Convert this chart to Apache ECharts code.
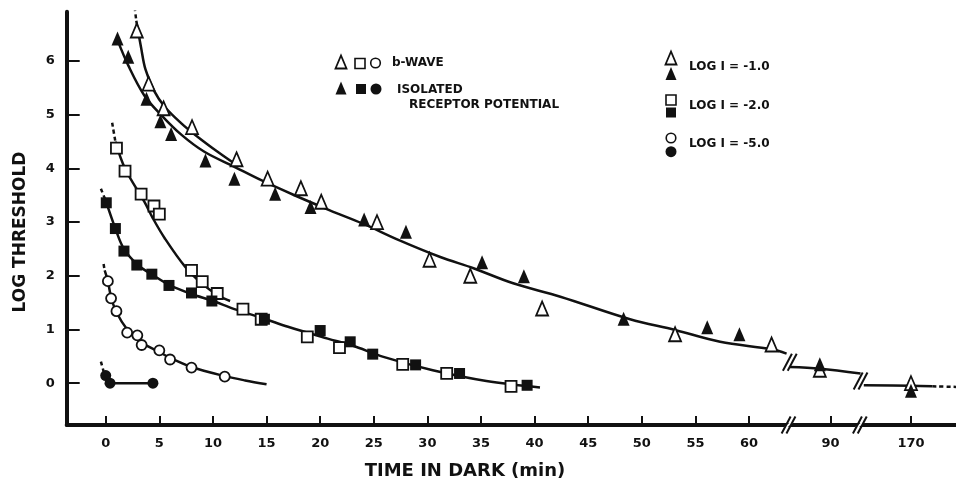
<!DOCTYPE html>
<html>
<head>
<meta charset="utf-8">
<title>Dark adaptation</title>
<script src="https://cdn.jsdelivr.net/npm/echarts@6/dist/echarts.min.js"></script>
<style>
  html, body { margin: 0; padding: 0; background: #fff; }
  #main { width: 956px; height: 481px; }
</style>
</head>
<body>
<div id="main"></div>
<script>
// x values are minutes in the dark; past 63 min the axis is broken (90 and 170 min)
const tickLabels = [0, 5, 10, 15, 20, 25, 30, 35, 40, 45, 50, 55, 60, 90, 170];
const yTicks = [0, 1, 2, 3, 4, 5, 6];

// measured points: b-wave = open symbols, receptor potential = filled symbols
const bwaveI1 = [[2.9, 6.57], [4.0, 5.58], [5.4, 5.12], [8.05, 4.77], [12.2, 4.17], [15.1, 3.81],
  [18.2, 3.63], [20.1, 3.38], [25.3, 3.0], [30.2, 2.30], [34.0, 2.0], [40.7, 1.39],
  [53.1, 0.91], [62.1, 0.72], [89, 0.25], [170, 0.0]];
const receptorI1 = [[1.1, 6.42], [2.1, 6.08], [3.8, 5.30], [5.1, 4.88], [6.1, 4.64], [9.3, 4.15],
  [12.0, 3.81], [15.8, 3.53], [19.1, 3.28], [24.1, 3.05], [28.0, 2.82], [35.1, 2.25],
  [39.0, 1.99], [48.3, 1.20], [56.1, 1.04], [59.1, 0.91], [89, 0.35], [170, -0.14]];
const bwaveI2 = [[1.0, 4.38], [1.8, 3.95], [3.3, 3.52], [4.5, 3.30], [5.0, 3.15], [8.0, 2.10],
  [9.0, 1.89], [10.4, 1.67], [12.8, 1.38], [14.5, 1.19], [18.8, 0.86], [21.8, 0.66],
  [27.7, 0.35], [31.8, 0.18], [37.8, -0.06]];
const receptorI2 = [[0.05, 3.36], [0.9, 2.88], [1.7, 2.46], [2.9, 2.20], [4.3, 2.03], [5.9, 1.82],
  [8.0, 1.68], [9.9, 1.53], [14.8, 1.19], [20.0, 0.98], [22.8, 0.77], [24.9, 0.54],
  [28.9, 0.34], [33.0, 0.18], [39.3, -0.04]];
const bwaveI5 = [[0.2, 1.90], [0.5, 1.58], [1.0, 1.34], [2.0, 0.94], [2.95, 0.89], [3.35, 0.71],
  [5.0, 0.61], [6.0, 0.44], [8.0, 0.29], [11.1, 0.12]];
const receptorI5 = [[0.0, 0.14], [0.4, 0.0], [4.4, 0.0]];

// hand drawn curves
const curveBwaveI1 = [[2.85, 6.75], [3.3, 6.25], [3.7, 5.85], [4.5, 5.45], [5.5, 5.15], [7, 4.85],
  [8.5, 4.6], [10.5, 4.3], [12.3, 4.05]];
const curveI1 = [[1.1, 6.39], [2.1, 5.92], [3.6, 5.36], [5.2, 4.99], [7.1, 4.62], [9.2, 4.31],
  [12, 4.03], [14.5, 3.78], [17.6, 3.5], [20.9, 3.22], [24, 2.97], [27.4, 2.66], [31.2, 2.35],
  [34.3, 2.14], [38, 1.86], [42.4, 1.61], [48.9, 1.19], [53.1, 0.99], [57.3, 0.77],
  [62.1, 0.63], [63.5, 0.55]];
const curveI1b = [[86.2, 0.30], [89, 0.27], [92.8, 0.18]];
const curveI1c = [[165.6, -0.04], [170, -0.05], [172, -0.06]];
const curveI1tail = [[172, -0.06], [174.2, -0.07]];
const curveBwaveI2 = [[0.9, 4.5], [1.8, 4.0], [3.6, 3.38], [4.4, 3.07], [5.5, 2.7], [7.4, 2.17],
  [9, 1.85], [10.6, 1.62], [11.6, 1.53]];
const curveI2 = [[0.0, 3.4], [0.9, 2.88], [1.7, 2.5], [3, 2.2], [4.5, 2.0], [6, 1.82], [8, 1.66],
  [10, 1.53], [12, 1.38], [14.8, 1.2], [17, 1.05], [20.7, 0.83], [23, 0.7], [25.9, 0.49],
  [30.5, 0.24], [35.5, 0.04], [40.5, -0.08]];
const curveBwaveI5 = [[-0.1, 2.1], [0.2, 1.9], [0.5, 1.6], [1, 1.32], [2, 1.0], [3, 0.8], [4, 0.68],
  [5, 0.58], [6, 0.47], [8, 0.3], [11.1, 0.13], [13, 0.05], [15, -0.02]];
const curveI5 = [[-0.2, 0.22], [0.0, 0.14], [0.4, 0.0], [4.4, 0.0]];
const dashStarts = [
  [[2.7, 7.0], [2.85, 6.75]],
  [[0.6, 4.85], [0.9, 4.5]],
  [[-0.45, 3.62], [0.0, 3.4]],
  [[-0.2, 2.22], [-0.1, 2.1]],
  [[-0.45, 0.4], [-0.2, 0.22]]
];
// break marks on the axis (x position only) and on the -1.0 curve
const axisBreaks = [63.68, 70.33];
const curveBreaks = [[63.8, 0.39], [70.4, 0.04]];

function pos(t) {
  if (t <= 63.5) return t;
  if (t < 130) return t - 22.4;   // 90 min sits at 67.6
  return t - 94.9;                // 170 min sits at 75.1
}
function mapPts(arr) { return arr.map(p => [pos(p[0]), p[1]]); }
function labelFor(v) {
  const t = tickLabels.find(k => Math.abs(pos(k) - v) < 1e-6);
  return t === undefined ? '' : String(t);
}

const ink = '#111';
const font = 'DejaVu Sans';
const yMin = -0.78;

function curve(data, dashed) {
  return {
    type: 'line', data: mapPts(data), smooth: 0.35, symbol: 'none', silent: true, z: 2,
    lineStyle: { color: ink, width: 2.5, type: dashed ? [4, 3] : 'solid' }
  };
}
function marks(data, symbol, size, filled) {
  return {
    type: 'scatter', data: mapPts(data), symbol: symbol, symbolSize: size, z: 4,
    itemStyle: filled ? { color: ink, opacity: 1 } : { color: '#fff', borderColor: ink, borderWidth: 1.8, opacity: 1 }
  };
}
function breakSeries(data, onAxis) {
  return {
    type: 'custom', z: 5, silent: true,
    data: data,
    renderItem: function (params, api) {
      const c = api.coord([api.value(0), onAxis ? yMin : api.value(1)]);
      const h = 8.5, sx = 4.5, off = 2.4;
      const kids = [];
      if (onAxis) {
        kids.push({ type: 'polygon', shape: { points: [[c[0] - off - sx + 1, c[1] + 3], [c[0] + off - sx, c[1] + 3], [c[0] + off + sx - 1, c[1] - 3], [c[0] - off + sx, c[1] - 3]] }, style: { fill: '#fff' } });
      }
      [-off, off].forEach(dx => {
        kids.push({ type: 'line', shape: { x1: c[0] + dx - sx, y1: c[1] + h, x2: c[0] + dx + sx, y2: c[1] - h }, style: { stroke: ink, lineWidth: 2 } });
      });
      return { type: 'group', children: kids };
    }
  };
}

// legend glyphs
function tri(cx, cy, filled) {
  return { type: 'polygon', shape: { points: [[cx - 5.5, cy + 6.5], [cx + 5.5, cy + 6.5], [cx, cy - 6.5]] },
    style: filled ? { fill: ink } : { fill: '#fff', stroke: ink, lineWidth: 1.8 } };
}
function sq(cx, cy, filled) {
  return { type: 'rect', shape: { x: cx - 5, y: cy - 5, width: 10, height: 10 },
    style: filled ? { fill: ink } : { fill: '#fff', stroke: ink, lineWidth: 1.6 } };
}
function dot(cx, cy, filled) {
  return { type: 'circle', shape: { cx: cx, cy: cy, r: filled ? 5.5 : 4.8 },
    style: filled ? { fill: ink } : { fill: '#fff', stroke: ink, lineWidth: 1.6 } };
}
function label(txt, x, y, size) {
  return { type: 'text', x: x, y: y, style: { text: txt, font: 'bold ' + (size || 12) + 'px "' + font + '"', fill: ink, verticalAlign: 'middle' } };
}

const chart = echarts.init(document.getElementById('main'));
chart.setOption({
  animation: false,
  backgroundColor: '#fff',
  grid: { left: 66.7, right: 0, top: 11.7, bottom: 56 },
  xAxis: {
    type: 'value', min: -3.64, max: 79.3,
    axisLine: { onZero: false, lineStyle: { color: ink, width: 4 } },
    axisTick: { inside: true, length: 9, lineStyle: { color: ink, width: 2 }, customValues: tickLabels.map(pos) },
    axisLabel: { customValues: tickLabels.map(pos), formatter: labelFor, margin: 12,
      color: ink, fontSize: 13, fontWeight: 'bold', fontFamily: font },
    splitLine: { show: false }
  },
  yAxis: {
    type: 'value', min: yMin, max: 6.92,
    axisLine: { onZero: false, lineStyle: { color: ink, width: 4 } },
    axisTick: { inside: true, length: 13, lineStyle: { color: ink, width: 2 }, customValues: yTicks },
    axisLabel: { customValues: yTicks, margin: 12, color: ink, fontSize: 13, fontWeight: 'bold', fontFamily: font },
    splitLine: { show: false }
  },
  graphic: [
    { type: 'text', x: 21, y: 232, rotation: Math.PI / 2,
      style: { text: 'LOG THRESHOLD', font: 'bold 17px "' + font + '"', fill: ink, align: 'center', verticalAlign: 'middle' } },
    { type: 'text', x: 465, y: 471,
      style: { text: 'TIME IN DARK (min)', font: 'bold 18px "' + font + '"', fill: ink, align: 'center', verticalAlign: 'middle' } },
    tri(341, 62, false), sq(360, 63.5, false), dot(375.5, 63, false), label('b-WAVE', 392, 63),
    tri(341, 88, true), sq(361, 89, true), dot(376, 89, true),
    label('ISOLATED', 397, 89.5), label('RECEPTOR POTENTIAL', 409, 105),
    tri(671, 58, false), tri(671, 73.5, true), label('LOG I = -1.0', 689, 66.7),
    sq(671, 100, false), sq(671, 112.5, true), label('LOG I = -2.0', 689, 106),
    dot(671, 138, false), dot(671, 151.7, true), label('LOG I = -5.0', 689, 144)
  ],
  series: [
    curve(curveBwaveI1), curve(curveI1), curve(curveI1b), curve(curveI1c), curve(curveI1tail, true),
    curve(curveBwaveI2), curve(curveI2), curve(curveBwaveI5), curve(curveI5),
    ...dashStarts.map(d => curve(d, true)),
    breakSeries(axisBreaks.map(x => [x]), true), breakSeries(curveBreaks, false),
    marks(bwaveI1, 'triangle', [12, 14], false),
    marks(receptorI1, 'triangle', [12, 14], true),
    marks(bwaveI2, 'rect', 11, false),
    marks(receptorI2, 'rect', 11, true),
    marks(bwaveI5, 'circle', 10, false),
    marks(receptorI5, 'circle', 11, true)
  ]
});
</script>
</body>
</html>
